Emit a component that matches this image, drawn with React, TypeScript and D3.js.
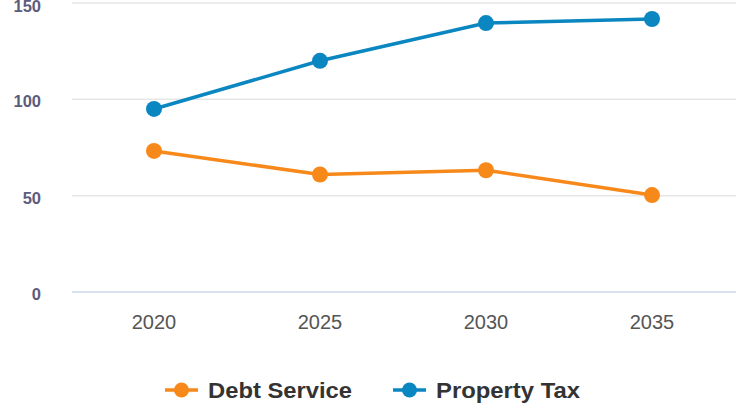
import React from "react";
import * as d3 from "d3";

const categories = ["2020", "2025", "2030", "2035"];
const debtService = [73.2, 61, 63.2, 50.3];
const propertyTax = [95, 120, 139.6, 141.7];
const yTicks = [0, 50, 100, 150];

const W = 743;
const H = 406;

export default function App() {
  const x = d3.scaleBand<string>().domain(categories).range([71, 735]);
  const y = d3.scaleLinear().domain([0, 150]).range([292, 3]);
  const cx = (c: string) => (x(c) as number) + x.bandwidth() / 2;
  const line = d3
    .line<number>()
    .x((_, i) => cx(categories[i]))
    .y((d) => y(d));

  const series = [
    { name: "Debt Service", data: debtService, color: "#f7891b" },
    { name: "Property Tax", data: propertyTax, color: "#0a86c0" },
  ];

  const legend = [
    { name: "Debt Service", color: "#f7891b", x: 165 },
    { name: "Property Tax", color: "#0a86c0", x: 393 },
  ];

  return (
    <svg
      width={W}
      height={H}
      style={{ position: "absolute", left: 0, top: 0, fontFamily: "'Liberation Sans', Arial, sans-serif" }}
    >
      <rect width={W} height={H} fill="#ffffff" />
      {yTicks.map((t) => (
        <g key={t}>
          <line
            x1={72}
            x2={736}
            y1={y(t)}
            y2={y(t)}
            stroke={t === 0 ? "#ccd6eb" : "#e6e6e6"}
            strokeWidth={1.5}
          />
          <text
            x={41}
            y={Math.max(y(t) + 8, 12)}
            textAnchor="end"
            fontSize={16.5}
            fontWeight="bold"
            fill="#5c5c7c"
          >
            {t}
          </text>
        </g>
      ))}
      {categories.map((c) => (
        <text key={c} x={cx(c)} y={328.5} textAnchor="middle" fontSize={20} fill="#555555">
          {c}
        </text>
      ))}
      {series.map((s) => (
        <g key={s.name}>
          <path d={line(s.data) || ""} fill="none" stroke={s.color} strokeWidth={3.5} />
          {s.data.map((v, i) => (
            <circle key={i} cx={cx(categories[i])} cy={y(v)} r={8} fill={s.color} />
          ))}
        </g>
      ))}
      {legend.map((l) => (
        <g key={l.name}>
          <line x1={l.x} x2={l.x + 33} y1={390} y2={390} stroke={l.color} strokeWidth={3.5} />
          <circle cx={l.x + 16.5} cy={390} r={7.5} fill={l.color} />
          <text
            x={l.x + 43}
            y={397.5}
            fontSize={21.5}
            fontWeight="bold"
            fill="#333333"
            textLength={144}
            lengthAdjust="spacingAndGlyphs"
          >
            {l.name}
          </text>
        </g>
      ))}
    </svg>
  );
}
